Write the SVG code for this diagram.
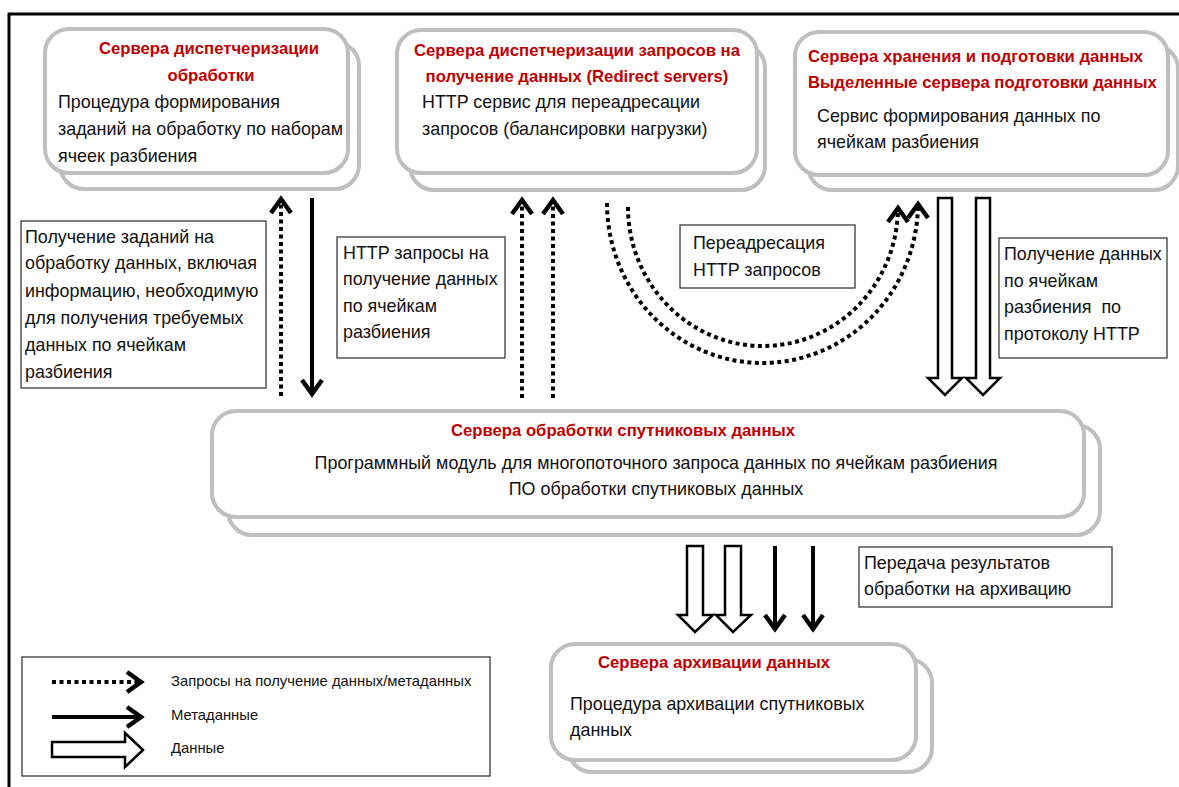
<svg xmlns="http://www.w3.org/2000/svg" width="1179" height="787" viewBox="0 0 1179 787">
<style>
text{font-family:"Liberation Sans",Arial,sans-serif;fill:#111}
.t{font-size:16.7px;font-weight:bold;fill:#c00000}
.b{font-size:17.9px}
.s{font-size:14.8px}
.back,.front{fill:#fff;stroke:#bfbfbf;stroke-width:4}
.box{fill:#fff;stroke:#3a3a3a;stroke-width:1.3}
.dot{fill:none;stroke:#000;stroke-width:4;stroke-dasharray:4 3.5}
.sol{fill:none;stroke:#000;stroke-width:4}
.hol{fill:#fff;stroke:#000;stroke-width:2.5;stroke-linejoin:miter}
</style>
<defs>
<marker id="chev" markerUnits="userSpaceOnUse" viewBox="0 0 24 24" markerWidth="24" markerHeight="24" refX="20" refY="12" orient="auto">
<path d="M5,2 L19,12 L5,22" fill="none" stroke="#000" stroke-width="4.5"/>
</marker>
</defs>
<rect width="1179" height="787" fill="#fff"/>
<g id="frame">
<line x1="8" y1="14" x2="1179" y2="14" stroke="#000" stroke-width="3"/>
<line x1="9" y1="13" x2="9" y2="787" stroke="#000" stroke-width="3"/>
</g>

<g id="node-dispatch-processing">
<rect class="back" x="60" y="42" width="299" height="147" rx="24"/>
<rect class="front" x="45" y="29" width="303" height="144" rx="24"/>
<text class="t" x="209" y="54" text-anchor="middle">Сервера диспетчеризации</text>
<text class="t" x="211" y="81" text-anchor="middle">обработки</text>
<text class="b" x="58" y="108">Процедура формирования</text>
<text class="b" x="58" y="135">заданий на обработку по наборам</text>
<text class="b" x="58" y="162">ячеек разбиения</text>
</g>

<g id="node-redirect">
<rect class="back" x="410" y="44" width="355" height="146" rx="24"/>
<rect class="front" x="397" y="30" width="360" height="143" rx="24"/>
<text class="t" x="577" y="56" text-anchor="middle">Сервера диспетчеризации запросов на</text>
<text class="t" x="577" y="82" text-anchor="middle">получение данных (Redirect servers)</text>
<text class="b" x="422" y="108">HTTP сервис для переадресации</text>
<text class="b" x="422" y="135">запросов (балансировки нагрузки)</text>
</g>

<g id="node-storage">
<rect class="back" x="808" y="45" width="370" height="145" rx="24"/>
<rect class="front" x="795" y="32" width="373" height="143" rx="24"/>
<text class="t" x="808" y="62">Сервера хранения и подготовки данных</text>
<text class="t" x="808" y="88">Выделенные сервера подготовки данных</text>
<text class="b" x="817" y="122">Сервис формирования данных по</text>
<text class="b" x="817" y="148">ячейкам разбиения</text>
</g>

<g id="node-processing">
<rect class="back" x="228" y="425" width="872" height="110" rx="24"/>
<rect class="front" x="212" y="411" width="872" height="106" rx="24"/>
<text class="t" x="623" y="436" text-anchor="middle">Сервера обработки спутниковых данных</text>
<text class="b" x="656" y="469" text-anchor="middle">Программный модуль для многопоточного запроса данных по ячейкам разбиения</text>
<text class="b" x="656" y="495" text-anchor="middle">ПО обработки спутниковых данных</text>
</g>

<g id="node-archive">
<rect class="back" x="568" y="659" width="364" height="113" rx="24"/>
<rect class="front" x="551" y="644" width="365" height="116" rx="24"/>
<text class="t" x="598" y="668">Сервера архивации данных</text>
<text class="b" x="570" y="710">Процедура архивации спутниковых</text>
<text class="b" x="570" y="736">данных</text>
</g>

<g id="connectors">
<line class="dot" x1="281" y1="396" x2="281" y2="198" marker-end="url(#chev)"/>
<line class="sol" x1="312" y1="198" x2="312" y2="395" marker-end="url(#chev)"/>
<line class="dot" x1="522" y1="398" x2="522" y2="199" marker-end="url(#chev)"/>
<line class="dot" x1="553" y1="398" x2="553" y2="199" marker-end="url(#chev)"/>
<path class="dot" d="M607,203 A155.5,160 0 0 0 918,203" marker-end="url(#chev)"/>
<path class="dot" d="M628,207 A135,139 0 0 0 898,207" marker-end="url(#chev)"/>
<polygon class="hol" points="938,198 952,198 952,378 962,378 945,395 928,378 938,378"/>
<polygon class="hol" points="976,198 990,198 990,378 1000,378 983,395 966,378 976,378"/>
<polygon class="hol" points="687,546 703,546 703,615 713,615 695,632 678,615 687,615"/>
<polygon class="hol" points="725,546 741,546 741,615 751,615 733,632 716,615 725,615"/>
<line class="sol" x1="775" y1="546" x2="775" y2="630" marker-end="url(#chev)"/>
<line class="sol" x1="813" y1="546" x2="813" y2="630" marker-end="url(#chev)"/>
</g>

<g id="label-tasks">
<rect class="box" x="21" y="221" width="245" height="167"/>
<text class="b" x="25" y="243">Получение заданий на</text>
<text class="b" x="25" y="269">обработку данных, включая</text>
<text class="b" x="25" y="297">информацию, необходимую</text>
<text class="b" x="25" y="324">для получения требуемых</text>
<text class="b" x="25" y="351">данных по ячейкам</text>
<text class="b" x="25" y="378">разбиения</text>
</g>

<g id="label-http">
<rect class="box" x="337" y="237" width="168" height="121"/>
<text class="b" x="343" y="259">HTTP запросы на</text>
<text class="b" x="343" y="285">получение данных</text>
<text class="b" x="343" y="312">по ячейкам</text>
<text class="b" x="343" y="338">разбиения</text>
</g>

<g id="label-redirect">
<rect class="box" x="680" y="225" width="175" height="63"/>
<text class="b" x="693" y="249">Переадресация</text>
<text class="b" x="693" y="276">HTTP запросов</text>
</g>

<g id="label-data">
<rect class="box" x="999" y="238" width="168" height="120"/>
<text class="b" x="1004" y="260">Получение данных</text>
<text class="b" x="1004" y="287">по ячейкам</text>
<text class="b" x="1004" y="313" xml:space="preserve">разбиения  по</text>
<text class="b" x="1004" y="340">протоколу HTTP</text>
</g>

<g id="label-transfer">
<rect class="box" x="859" y="547" width="253" height="60"/>
<text class="b" x="864" y="569">Передача результатов</text>
<text class="b" x="864" y="595">обработки на архивацию</text>
</g>

<g id="legend">
<rect class="box" x="22" y="657" width="468" height="119"/>
<line class="dot" x1="52" y1="682" x2="142" y2="682" marker-end="url(#chev)"/>
<line class="sol" x1="52" y1="717" x2="142" y2="717" marker-end="url(#chev)"/>
<polygon class="hol" points="52,742 125,742 125,733 143,750 125,767 125,757 52,757"/>
<text class="s" x="171" y="686">Запросы на получение данных/метаданных</text>
<text class="s" x="171" y="720">Метаданные</text>
<text class="s" x="171" y="753">Данные</text>
</g>
</svg>
